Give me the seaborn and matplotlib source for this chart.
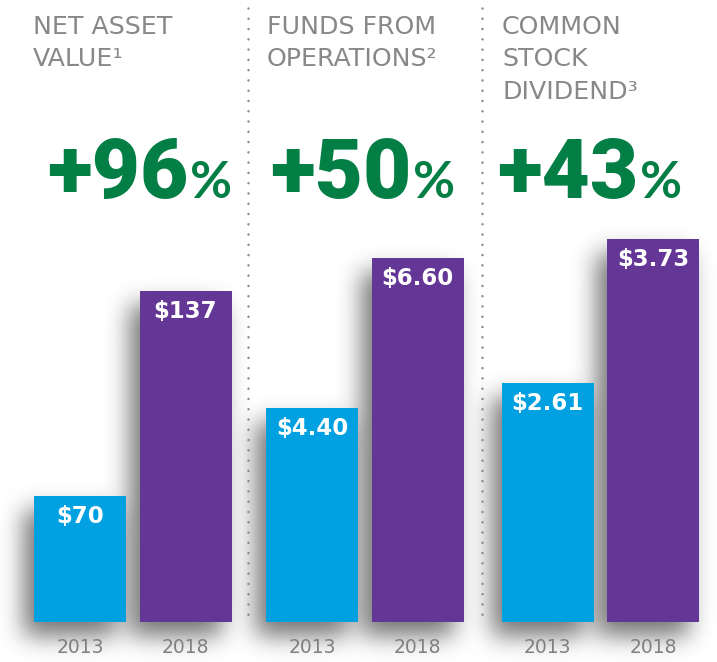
import numpy as np
import matplotlib
matplotlib.use("Agg")
import matplotlib.pyplot as plt
from matplotlib.lines import Line2D
import seaborn as sns

# ---------------- data ----------------
titles = [["NET ASSET", "VALUE¹"],
          ["FUNDS FROM", "OPERATIONS²"],
          ["COMMON", "STOCK", "DIVIDEND³"]]
years = ["2013", "2018"]
net_asset_value = [70, 137]
funds_from_operations = [4.40, 6.60]
common_stock_dividend = [2.61, 3.73]
series = [net_asset_value, funds_from_operations, common_stock_dividend]
value_fmt = ["${:.0f}", "${:.2f}", "${:.2f}"]

# ---------------- style ----------------
sns.set_theme(style="white")
plt.rcParams["font.family"] = ["DejaVu Sans"]

BLUE = "#00A0E1"
PURPLE = "#643695"
GREEN = "#037E45"
GREY = "#808080"

W, H, DPI = 717, 662, 100
fig = plt.figure(figsize=(W / DPI, H / DPI), dpi=DPI)
fig.patch.set_facecolor("white")

def fx(px):
    return px / W

def fy(py):
    return 1 - py / H

PX2PT = 72 / DPI

# layout per panel (pixels)
first_bar_center = [80, 312, 547.5]
pitch = 105.5
bar_width = 92 / pitch
baseline_px = 622
top_px = 222
ylims = [(28.82, 159.55), (1.261, 7.128), (0.751, 3.862)]
title_x = [34, 268, 503]
pct_x = [47, 270, 497]

axes = []
for i, vals in enumerate(series):
    left = first_bar_center[i] - 0.7 * pitch
    ax = fig.add_axes([fx(left), fy(baseline_px), 2.4 * pitch / W,
                       (baseline_px - top_px) / H])
    ax.set_facecolor("none")
    sns.barplot(x=years, y=vals, hue=years, palette=[BLUE, PURPLE],
                width=bar_width, saturation=1, legend=False, ax=ax)
    y0, y1 = ylims[i]
    ax.set_xlim(-0.7, 1.7)
    ax.set_ylim(y0, y1)
    for p in ax.patches:
        h = p.get_height()
        p.set_y(y0)
        p.set_height(h - y0)
        p.set_linewidth(0)
    for j, v in enumerate(vals):
        ax.annotate(value_fmt[i].format(v), xy=(j, v),
                    xytext=(0, -21 * PX2PT), textcoords="offset points",
                    ha="center", va="center", color="white", fontsize=16.5,
                    fontweight="bold", family=["DejaVu Sans"],
                    parse_math=False, zorder=5)
    ax.set_yticks([])
    ax.set_xlabel("")
    ax.set_ylabel("")
    ax.tick_params(axis="x", length=0, pad=11.5, labelsize=13.5, labelcolor=GREY)
    for s in ax.spines.values():
        s.set_visible(False)
    axes.append(ax)

    # headings
    for li, line in enumerate(titles[i]):
        fig.text(fx(title_x[i] - 1), fy(34 + 32.5 * li), line, ha="left",
                 va="baseline", fontsize=18.2, color="#888888",
                 fontweight="normal")

    # percentage change
    pct = round((vals[1] / vals[0] - 1) * 100)
    t = fig.text(fx(pct_x[i]), fy(198), f"+{pct}", ha="left", va="baseline",
                 fontsize=60, color=GREEN, fontweight="black",
                 family=["Roboto", "Lato", "DejaVu Sans"])
    fig.canvas.draw()
    bb = t.get_window_extent()
    fig.text(bb.x1 / W + fx(2), fy(198), "%", ha="left", va="baseline",
             fontsize=37, color=GREEN, fontweight="bold",
             family=["Lato", "DejaVu Sans"])

# soft drop shadow derived from the drawn bars (gaussian-blurred mask)
fig.canvas.draw()
shift_x, shift_y, sigma, strength = -10, 14, 12.0, 0.55
mask = np.zeros((H, W))
for ax in axes:
    for p in ax.patches:
        bb = p.get_window_extent()
        c0 = int(round(bb.x0)) + shift_x
        c1 = int(round(bb.x1)) + shift_x
        r0 = H - int(round(bb.y1)) + shift_y
        r1 = H - int(round(bb.y0)) + shift_y
        mask[max(r0, 0):min(r1, H), max(c0, 0):min(c1, W)] = 1.0
r = int(3 * sigma)
kx = np.arange(-r, r + 1)
kern = np.exp(-kx ** 2 / (2 * sigma ** 2))
kern /= kern.sum()
pad = np.pad(mask, r, mode="constant")
blur = np.apply_along_axis(lambda m: np.convolve(m, kern, mode="same"), 1, pad)
blur = np.apply_along_axis(lambda m: np.convolve(m, kern, mode="same"), 0, blur)
blur = blur[r:-r, r:-r]
shadow = np.zeros((H, W, 4))
shadow[..., 3] = np.clip(blur * strength, 0, 1)
fig.figimage(shadow, xo=0, yo=0, origin="upper", zorder=-1)

# dotted separators
for xs in [248, 482]:
    fig.add_artist(Line2D([fx(xs), fx(xs)], [fy(8), fy(618)],
                          transform=fig.transFigure, color="#8a8a8a",
                          lw=1.8, dashes=(0.01, 4.1), dash_capstyle="round",
                          solid_capstyle="round"))

fig.savefig("out.png", dpi=DPI, facecolor="white")
